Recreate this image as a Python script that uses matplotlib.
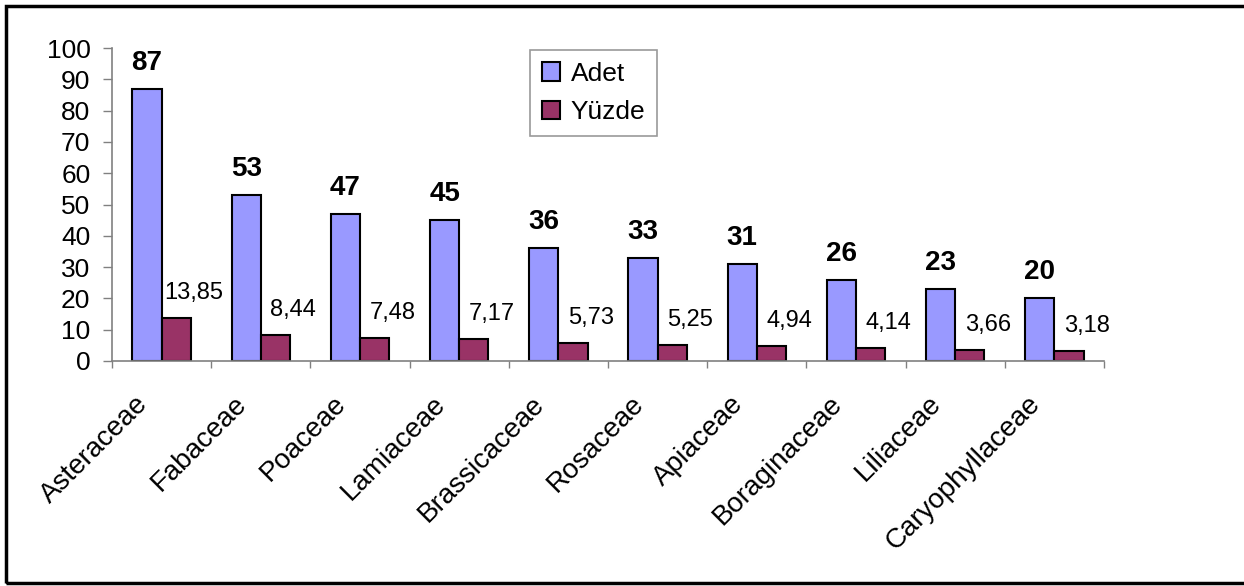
import matplotlib.pyplot as plt
import numpy as np
from matplotlib.patches import Rectangle

plt.rcParams['font.family'] = ['Liberation Sans', 'DejaVu Sans']

# Veriler
familyalar = ['Asteraceae', 'Fabaceae', 'Poaceae', 'Lamiaceae', 'Brassicaceae',
              'Rosaceae', 'Apiaceae', 'Boraginaceae', 'Liliaceae', 'Caryophyllaceae']
adet = [87, 53, 47, 45, 36, 33, 31, 26, 23, 20]
yuzde = [13.85, 8.44, 7.48, 7.17, 5.73, 5.25, 4.94, 4.14, 3.66, 3.18]
yuzde_etiket = ['13,85', '8,44', '7,48', '7,17', '5,73', '5,25', '4,94', '4,14', '3,66', '3,18']

fig = plt.figure(figsize=(12.44, 5.86), dpi=100)
ax = fig.add_axes([112 / 1244, 1 - 361 / 586, 992 / 1244, 313 / 586])

x = np.arange(len(familyalar))
w = 0.295
ax.bar(x - w / 2, adet, w, color='#9999FF', edgecolor='black', linewidth=1.5, label='Adet')
ax.bar(x + w / 2, yuzde, w, color='#993366', edgecolor='black', linewidth=1.5, label='Yüzde')

for xi, v in zip(x, adet):
    ax.annotate(str(v), (xi - w / 2, v), xytext=(0, 19), textcoords='offset pixels',
                ha='center', va='baseline', fontsize=20, fontweight='bold')
for xi, v, s in zip(x, yuzde, yuzde_etiket):
    ax.annotate(s, (xi + w / 2, v), xytext=(18, 19), textcoords='offset pixels',
                ha='center', va='baseline', fontsize=17)

ax.set_xlim(-0.5, len(familyalar) - 0.5)
ax.set_ylim(0, 100)
ax.set_yticks(range(0, 101, 10))
ax.set_xticks(np.arange(-0.5, len(familyalar), 1.0))
ax.set_xticklabels([])
ax.tick_params(axis='x', length=5, color='#808080', width=1)
ax.tick_params(axis='y', length=6.5, color='#808080', width=1, labelsize=19, pad=9)

for xi, name in zip(x, familyalar):
    ax.text(xi - 0.27, -9.5, name, rotation=45, ha='right', va='top',
            rotation_mode='anchor', fontsize=20)

for side in ['top', 'right']:
    ax.spines[side].set_visible(False)
for side in ['left', 'bottom']:
    ax.spines[side].set_color('#808080')
    ax.spines[side].set_linewidth(1.2)

leg = ax.legend(loc='upper left', bbox_to_anchor=((530 - 112) / 992, 1 + (48 - 50) / 313),
                fontsize=19, frameon=True, fancybox=False, edgecolor='#808080',
                handlelength=0.7, handleheight=0.7, handletextpad=0.4,
                labelspacing=0.55, borderpad=0.45, borderaxespad=0)
leg.get_frame().set_linewidth(1.2)

# Çerçeve
fig.patches.append(Rectangle((6 / 1244, 3 / 586), 1.1, 577 / 586, transform=fig.transFigure,
                             fill=False, edgecolor='black', linewidth=2.5))

fig.savefig('out.png', dpi=100)
